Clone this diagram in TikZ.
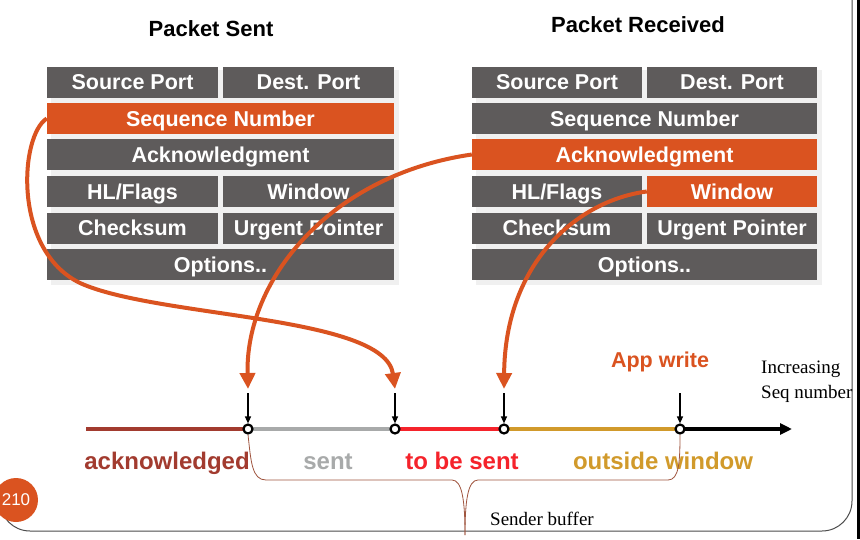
\documentclass[tikz,border=0pt]{standalone}
\usepackage{fontspec}
\setmainfont{Liberation Serif}
\newfontfamily\sansf{Liberation Sans}
\usetikzlibrary{arrows.meta}
\definecolor{cellgray}{HTML}{5E5B5B}
\definecolor{hot}{HTML}{DA5320}
\definecolor{ackc}{HTML}{A23B2F}
\definecolor{sentc}{HTML}{A8AAAA}
\definecolor{tobec}{HTML}{F5232B}
\definecolor{outc}{HTML}{D19A2B}
\definecolor{bracec}{HTML}{A0553F}
\begin{document}
\begin{tikzpicture}[x=1pt,y=-1pt,
  cell/.style={fill=cellgray, text=white, font=\sansf\bfseries\fontsize{21.5}{24}\selectfont,
    minimum height=31pt, inner sep=0pt, text height=15.5pt, text depth=0pt},
  hotcell/.style={cell, fill=hot},
  half/.style={minimum width=170pt},
  full/.style={minimum width=346pt},
  title/.style={font=\sansf\bfseries\fontsize{22}{24}\selectfont, anchor=base},
  seglbl/.style={font=\sansf\bfseries\fontsize{24}{26}\selectfont, anchor=base},
  seqline/.style={line width=3.5pt},
  dot/.style={circle, draw=black, fill=white, line width=2.2pt, minimum size=9pt, inner sep=0pt},
  tick/.style={line width=1.3pt, -{Triangle[width=6pt,length=7pt]}},
  hotarrow/.style={draw=hot, line width=4pt, -{Triangle[width=15pt,length=16pt]}},
  serif/.style={font=\fontsize{19}{24}\selectfont},
]
\useasboundingbox (0,0) rectangle (860,539);
\fill[white] (0,0) rectangle (860,539);

% slide frame
\fill[black] (857,0) rectangle (860,539);
\draw[black!70, line width=1pt] (852,-2) -- (852,501) arc[start angle=0, end angle=90, radius=30] -- (30,531)
  arc[start angle=90, end angle=180, radius=30];

% titles
\node[title] (t1) at (211,36) {Packet Sent};
\node[title] (t2) at (638,32) {Packet Received};

% shadows
\fill[black!6] (51,70) rectangle (399,285);
\fill[black!6] (476,70) rectangle (822,285);

% left table
\node[cell, minimum width=171pt] (lsp) at (132.5,82) {Source Port};
\node[cell, minimum width=171pt] (ldp) at (308.5,82) {Dest. Port};
\node[hotcell, minimum width=347pt] (lseq) at (220.5,118.5) {Sequence Number};
\node[cell, minimum width=347pt] (lack) at (220.5,154.5) {Acknowledgment};
\node[cell, minimum width=171pt] (lhl) at (132.5,191.5) {HL/Flags};
\node[cell, minimum width=171pt] (lwin) at (308.5,191.5) {Window};
\node[cell, minimum width=171pt] (lck) at (132.5,228) {Checksum};
\node[cell, minimum width=171pt] (lup) at (308.5,228) {Urgent Pointer};
\node[cell, minimum width=347pt] (lopt) at (220.5,264.5) {Options..};

% right table
\node[cell, half] (rsp) at (557,82) {Source Port};
\node[cell, half] (rdp) at (732,82) {Dest. Port};
\node[cell, minimum width=345pt] (rseq) at (644.5,118.5) {Sequence Number};
\node[hotcell, minimum width=345pt] (rack) at (644.5,154.5) {Acknowledgment};
\node[cell, half] (rhl) at (557,191.5) {HL/Flags};
\node[hotcell, half] (rwin) at (732,191.5) {Window};
\node[cell, half] (rck) at (557,228) {Checksum};
\node[cell, half] (rup) at (732,228) {Urgent Pointer};
\node[cell, minimum width=345pt] (ropt) at (644.5,264.5) {Options..};

% timeline
\coordinate (t0) at (86,429);
\coordinate (tE) at (792,429);
\coordinate (p1) at (248,429);
\coordinate (p2) at (395,429);
\coordinate (p3) at (504,429);
\coordinate (p4) at (680,429);
\draw[seqline, ackc] (t0) -- (p1);
\draw[seqline, sentc] (p1) -- (p2);
\draw[seqline, tobec] (p2) -- (p3);
\draw[seqline, outc] (p3) -- (p4);
\draw[seqline, black, -{Triangle[width=11pt,length=12pt]}] (p4) -- (tE);
\node[dot] (c1) at (p1) {};
\node[dot] (c2) at (p2) {};
\node[dot] (c3) at (p3) {};
\node[dot] (c4) at (p4) {};

% ticks
\coordinate (a1) at (248,393);
\coordinate (a2) at (395,393);
\coordinate (a3) at (504,393);
\coordinate (a4) at (680,393);
\draw[tick] (a1) -- (c1.north);
\draw[tick] (a2) -- (c2.north);
\draw[tick] (a3) -- (c3.north);
\draw[tick] (a4) -- (c4.north);

% orange arrows
\coordinate (e1) at (395,389);
\coordinate (e2) at (248,389);
\coordinate (e3) at (504,389);
\draw[hotarrow] (lseq.west) .. controls (20,135) and (12,250) .. (80,283)
   .. controls (157,318) and (385,315) .. (e1);
\draw[hotarrow] (rack.west) .. controls (330,175) and (245,280) .. (e2);
\draw[hotarrow] (rwin.west) .. controls (580,200) and (505,260) .. (e3);

% labels
\node[seglbl, ackc] (l1) at (167,469) {acknowledged};
\node[seglbl, sentc] (l2) at (328,469) {sent};
\node[seglbl, tobec] (l3) at (462,469) {to be sent};
\node[seglbl, outc] (l4) at (663,469) {outside window};
\node[font=\sansf\bfseries\fontsize{21.5}{24}\selectfont, text=hot, anchor=base] (aw) at (660,367) {App write};
\node[serif, anchor=base west, inner sep=0pt] (inc1) at (761,373) {Increasing};
\node[serif, anchor=base west, inner sep=0pt] (inc2) at (761,398) {Seq number};

% brace
\draw[bracec, line width=0.8pt] (c1.south) .. controls (251,462) and (252,480) .. (266,480)
  -- (452,480) .. controls (462,480) and (465,500) .. (465,535);
\draw[bracec, line width=0.8pt] (c4.south) .. controls (680,462) and (679,480) .. (668,480)
  -- (478,480) .. controls (468,480) and (465,500) .. (465,535);
\node[serif, anchor=base west, inner sep=0pt] (sb) at (490,525) {Sender buffer};

% page number
\node[circle, fill=hot, minimum size=44pt, inner sep=0pt, text=white,
  font=\sansf\fontsize{17}{19}\selectfont] (pg) at (16,500) {210};
\end{tikzpicture}
\end{document}
